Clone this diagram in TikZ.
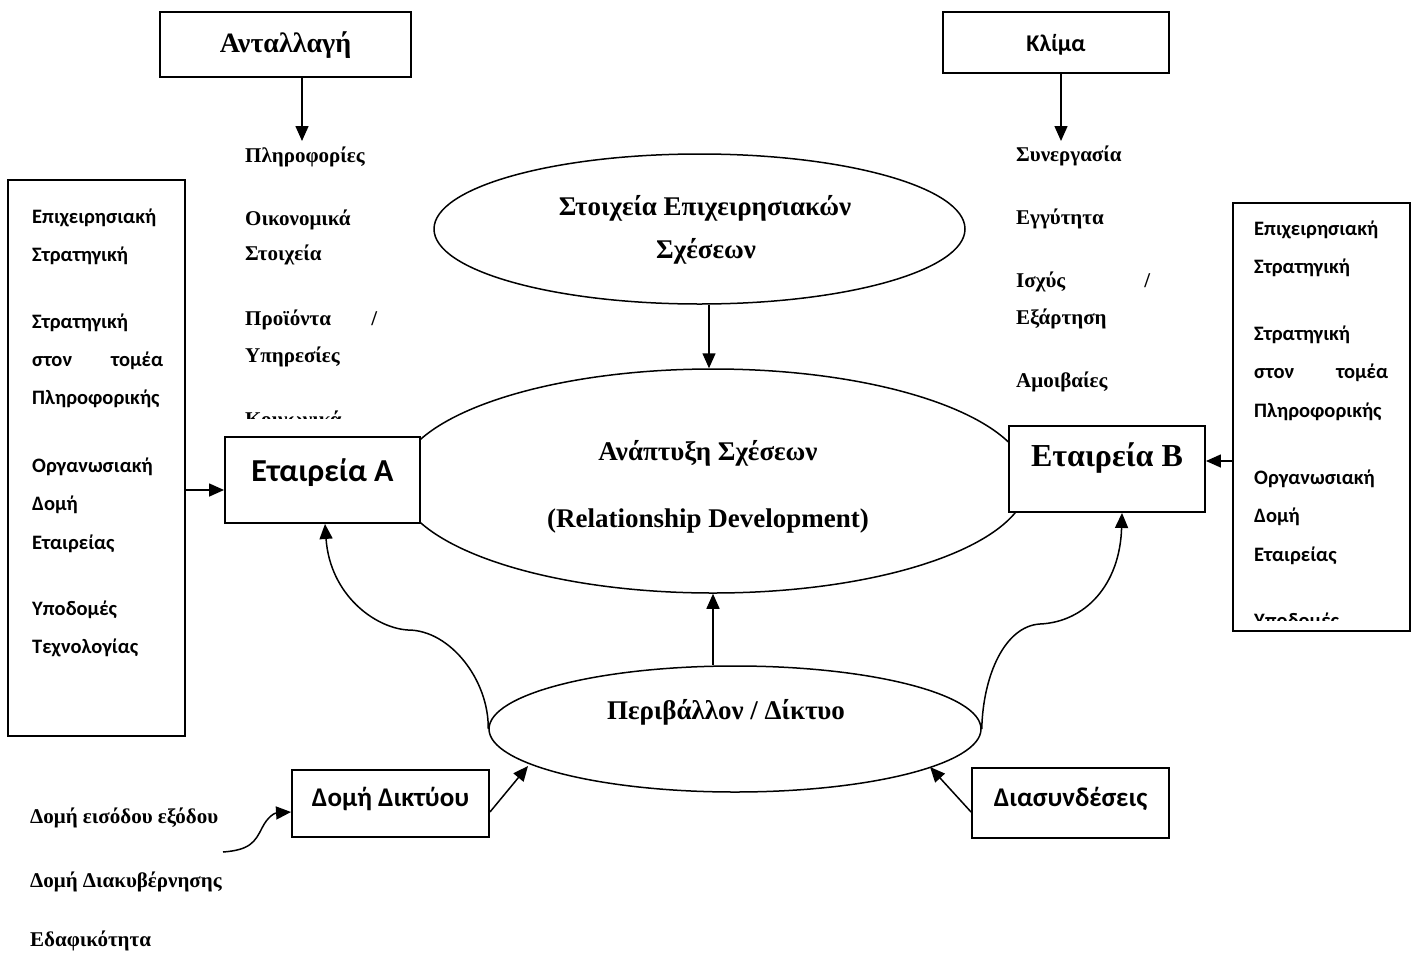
\documentclass[tikz,border=0pt]{standalone}
\usepackage{fontspec}
\setmainfont{Liberation Serif}
\newfontfamily\sansf{Carlito}
\usetikzlibrary{arrows.meta,shapes.geometric,calc}
\newcommand\myfs[1]{\fontsize{#1}{#1}\selectfont}
\begin{document}
\begin{tikzpicture}[x=1pt,y=-1pt,
  box/.style={draw,line width=1.9pt,fill=white,inner sep=0pt},
  ell/.style={draw,ellipse,line width=1.5pt,inner sep=0pt},
  arr/.style={line width=1.5pt,-{Triangle[length=15pt,width=13pt]}},
  ser/.style={font=\myfs{21}\bfseries,inner sep=0pt,anchor=base west},
  san/.style={font=\myfs{20.5}\sansf\bfseries,inner sep=0pt,anchor=base west},
  big/.style={font=\myfs{27}\bfseries,inner sep=0pt,anchor=base},
]
\useasboundingbox (0,0) rectangle (1415,953);
\fill[white] (0,0) rectangle (1415,953);

% ellipses
\node[ell,minimum width=531pt,minimum height=150pt] (topell) at (699.5,229) {};
\node[ell,minimum width=630pt,minimum height=224pt] (mainell) at (713,481) {};
\node[ell,minimum width=492pt,minimum height=126pt] (env) at (735,729) {};

% boxes
\node[box,minimum width=251pt,minimum height=65pt] (exch) at (285.5,44.5) {};
\node[box,minimum width=226pt,minimum height=61pt] (klima) at (1056,42.5) {};
\node[box,minimum width=177pt,minimum height=556pt] (leftbox) at (96.5,458) {};
\node[box,minimum width=177pt,minimum height=428pt] (rightbox) at (1321.5,417) {};
\node[box,minimum width=195pt,minimum height=86pt] (boxA) at (322.5,480) {};
\node[box,minimum width=196pt,minimum height=86pt] (boxB) at (1107,469) {};
\node[box,minimum width=197pt,minimum height=67pt] (domi) at (390.5,803.5) {};
\node[box,minimum width=197pt,minimum height=70pt] (diasyn) at (1070.5,803) {};

% box texts
\node[font=\myfs{28}\bfseries,inner sep=0pt,anchor=base] (exchtxt) at (285.5,52) {Ανταλλαγή};
\node[font=\myfs{24}\sansf\bfseries,inner sep=0pt,anchor=base] (klimatxt) at (1056,51) {Κλίμα};
\node[font=\myfs{32}\sansf\bfseries,inner sep=0pt,anchor=base] (tA) at (322.5,481) {Εταιρεία A};
\node[font=\myfs{32}\bfseries,inner sep=0pt,anchor=base] (tB) at (1107,466) {Εταιρεία B};
\node[font=\myfs{27}\sansf\bfseries,inner sep=0pt,anchor=base] (domitxt) at (390.5,806) {Δομή Δικτύου};
\node[font=\myfs{27}\sansf\bfseries,inner sep=0pt,anchor=base] (diasyntxt) at (1070.5,806) {Διασυνδέσεις};

% ellipse texts
\node[big] (e1) at (705,215) {Στοιχεία Επιχειρησιακών};
\node[big] (e2) at (706,258) {Σχέσεων};
\node[big] (e3) at (708,460) {Ανάπτυξη Σχέσεων};
\node[big] (e4) at (708,527) {(Relationship Development)};
\node[big] (e5) at (726,719) {Περιβάλλον / Δίκτυο};

% left serif list
\node[ser] (l1) at (245,162) {Πληροφορίες};
\node[ser] (l2) at (245,225) {Οικονομικά};
\node[ser] (l3) at (245,260) {Στοιχεία};
\node[ser] (l4) at (245,325) {\makebox[132pt]{Προϊόντα\hfill/}};
\node[ser] (l5) at (245,362) {Υπηρεσίες};
\begin{scope}
\clip (230,395) rectangle (420,418);
\node[ser] (l6) at (245,426) {Κοινωνικά};
\end{scope}

% right serif list
\node[ser] (r1) at (1016,161) {Συνεργασία};
\node[ser] (r2) at (1016,224) {Εγγύτητα};
\node[ser] (r3) at (1016,287) {\makebox[134pt]{Ισχύς\hfill/}};
\node[ser] (r4) at (1016,324) {Εξάρτηση};
\node[ser] (r5) at (1016,387) {Αμοιβαίες};

% left sans list
\node[san] (a1) at (32,223) {Επιχειρησιακή};
\node[san] (a2) at (32,261) {Στρατηγική};
\node[san] (a3) at (32,328) {Στρατηγική};
\node[san] (a4) at (32,366) {\makebox[131pt]{στον\hfill τομέα}};
\node[san] (a5) at (32,404) {Πληροφορικής};
\node[san] (a6) at (32,472) {Οργανωσιακή};
\node[san] (a7) at (32,510) {Δομή};
\node[san] (a8) at (32,549) {Εταιρείας};
\node[san] (a9) at (32,615) {Υποδομές};
\node[san] (a10) at (32,653) {Τεχνολογίας};

% right sans list
\node[san] (b1) at (1254,235) {Επιχειρησιακή};
\node[san] (b2) at (1254,273) {Στρατηγική};
\node[san] (b3) at (1254,340) {Στρατηγική};
\node[san] (b4) at (1254,378) {\makebox[134pt]{στον\hfill τομέα}};
\node[san] (b5) at (1254,417) {Πληροφορικής};
\node[san] (b6) at (1254,484) {Οργανωσιακή};
\node[san] (b7) at (1254,522) {Δομή};
\node[san] (b8) at (1254,561) {Εταιρείας};
\begin{scope}
\clip (1240,590) rectangle (1405,620);
\node[san] (b9) at (1254,627) {Υποδομές};
\end{scope}

% bottom-left list
\node[ser] (c1) at (30,823) {Δομή εισόδου εξόδου};
\node[ser] (c2) at (30,887) {Δομή Διακυβέρνησης};
\node[ser] (c3) at (30,946) {Εδαφικότητα};

% helper coordinates
\coordinate (exchTip) at (302,141);
\coordinate (klimaTip) at (1061,141);
\coordinate (tm) at (709,0);
\coordinate (em) at (713,0);
\coordinate (la) at (0,490);
\coordinate (rb) at (0,461);
\coordinate (ca) at (325,0);
\coordinate (cb) at (1122,0);
\coordinate (dy) at (0,812);
\coordinate (d1) at (528,766);
\coordinate (d2) at (930,767);
\coordinate (cs) at (223,852);

% connectors
\draw[arr] (exch.south -| exchTip) -- (exchTip);
\draw[arr] (klima.south -| klimaTip) -- (klimaTip);
\draw[arr] (topell.south -| tm) -- (mainell.north -| tm);
\draw[arr] (env.north -| em) -- (mainell.south -| em);
\draw[arr] (leftbox.east |- la) -- (boxA.west |- la);
\draw[arr] (rightbox.west |- rb) -- (boxB.east |- rb);
\draw[arr] (env.west) .. controls (489,680) and (450,630) .. (408,630)
  .. controls (375,628) and (330,595) .. (boxA.south -| ca);
\draw[arr] (env.east) .. controls (983,675) and (1005,626) .. (1040,624)
  .. controls (1085,622) and (1120,585) .. (boxB.south -| cb);
\draw[arr] (domi.east |- dy) -- (d1);
\draw[arr] (diasyn.west |- dy) -- (d2);
\draw[arr] (cs) .. controls (250,850) and (255,842) .. (262,828)
  .. controls (268,816) and (275,813) .. (domi.west |- dy);
\end{tikzpicture}
\end{document}
